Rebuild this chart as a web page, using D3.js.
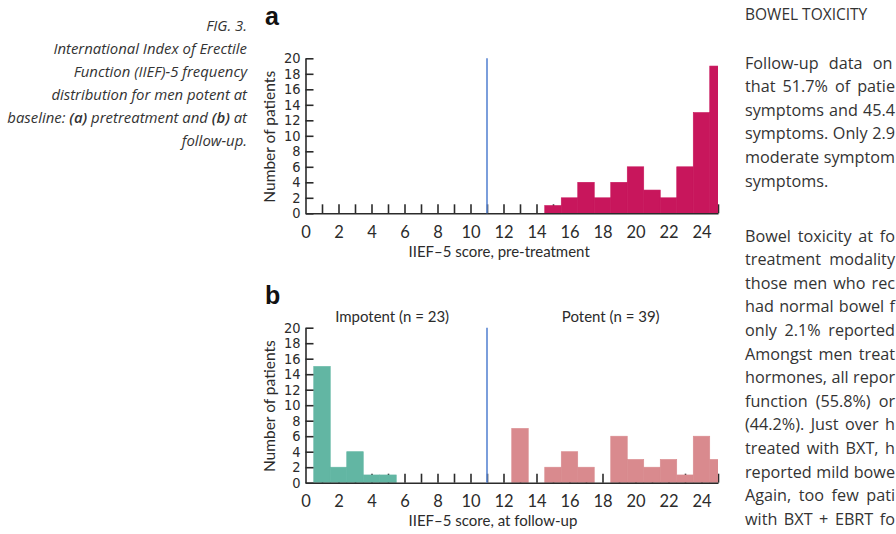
<!DOCTYPE html>
<html>
<head>
<meta charset="utf-8">
<script src="https://cdn.jsdelivr.net/npm/d3@7/dist/d3.min.js"></script>
<style>
  html, body { margin: 0; padding: 0; background: #fff; overflow: hidden; }
  svg { display: block; }
</style>
</head>
<body>
<svg id="fig" width="896" height="534"></svg>
<script>
// IIEF-5 score distributions (number of patients per score)
const preScores = [15, 16, 17, 18, 19, 20, 21, 22, 23, 24, 25];
const preCounts = [1, 2, 4, 2, 4, 6, 3, 2, 6, 13, 19];

const impotentScores = [1, 2, 3, 4, 5];
const impotentCounts = [15, 2, 4, 1, 1];

const potentScores = [13, 15, 16, 17, 19, 20, 21, 22, 23, 24, 25];
const potentCounts = [7, 2, 4, 2, 6, 3, 2, 3, 1, 6, 3];

const cutoffScore = 11;
const yTickValues = [0, 2, 4, 6, 8, 10, 12, 14, 16, 18, 20];
const xTickMarks = d3.range(1, 26);
const xTickLabels = [0, 2, 4, 6, 8, 10, 12, 14, 16, 18, 20, 22, 24];

const captionLines = [
  [{t: "FIG. 3."}],
  [{t: "International Index of Erectile"}],
  [{t: "Function (IIEF)-5 frequency"}],
  [{t: "distribution for men potent at"}],
  [{t: "baseline: "}, {t: "(a)", b: true}, {t: " pretreatment and "}, {t: "(b)", b: true}, {t: " at"}],
  [{t: "follow-up."}]
];

const bodyHeading = "BOWEL TOXICITY";
const bodyPara1 = [
  "Follow-up data on",
  "that 51.7% of patie",
  "symptoms and 45.4",
  "symptoms. Only 2.9",
  "moderate symptom",
  "symptoms."
];
const bodyPara2 = [
  "Bowel toxicity at fo",
  "treatment modality",
  "those men who rec",
  "had normal bowel f",
  "only 2.1% reported",
  "Amongst men treat",
  "hormones, all repor",
  "function (55.8%) or",
  "(44.2%). Just over h",
  "treated with BXT, h",
  "reported mild bowe",
  "Again, too few pati",
  "with BXT + EBRT fo"
];

const svg = d3.select("#fig");
const ink = "#2b2b2b";
const chartFont = "Lato, 'Open Sans', sans-serif";

// ---- caption (left) ----
const cap = svg.append("text")
  .attr("text-anchor", "end")
  .attr("font-family", "'Open Sans', Lato, sans-serif")
  .attr("font-style", "italic")
  .attr("font-size", 14.9)
  .attr("fill", "#333");
captionLines.forEach((parts, i) => {
  const line = cap.append("tspan").attr("x", 247).attr("y", 30.5 + i * 23);
  parts.forEach((p, j) => {
    const s = j === 0 ? line : cap.append("tspan");
    s.text(p.t).attr("font-weight", p.b ? 600 : "normal");
  });
});

// ---- shared x scale ----
const x = d3.scaleLinear().domain([0, 25]).range([305.5, 718]);

function panel(opts) {
  const y = d3.scaleLinear().domain([0, 20]).range([opts.y0, opts.y0 - 155]);
  const g = svg.append("g");

  // panel letter
  g.append("text")
    .attr("x", 265).attr("y", opts.letterY)
    .attr("font-family", "'Liberation Sans', Arial, sans-serif")
    .attr("font-weight", "bold").attr("font-size", 25)
    .attr("fill", "#111")
    .text(opts.letter);

  // x tick marks (inward), under the bars
  g.append("g")
    .attr("transform", `translate(0,${y(0)})`)
    .call(d3.axisBottom(x).tickValues(xTickMarks).tickSize(-9).tickSizeOuter(0).tickFormat(""))
    .call(a => a.select(".domain").remove())
    .call(a => a.selectAll("line").attr("stroke", ink).attr("stroke-width", 1.6));

  // x tick labels
  g.append("g")
    .attr("transform", `translate(0,${y(0)})`)
    .call(d3.axisBottom(x).tickValues(xTickLabels).tickSize(0).tickPadding(13))
    .call(a => a.select(".domain").remove())
    .call(a => a.selectAll("text")
      .attr("font-family", chartFont).attr("font-size", 16.5).attr("fill", ink));

  // bars, clipped to the axis extent
  const clipId = "clip-" + opts.letter;
  g.append("clipPath").attr("id", clipId)
    .append("rect")
    .attr("x", x(0)).attr("y", y(20) - 5)
    .attr("width", x(25) - x(0)).attr("height", y(0) - y(20) + 5);

  opts.series.forEach(s => {
    const data = s.scores.map((sc, i) => ({score: sc, count: s.counts[i]}));
    g.append("g").attr("clip-path", `url(#${clipId})`)
      .selectAll("rect").data(data).join("rect")
      .attr("x", d => x(d.score - 0.5))
      .attr("width", d => x(d.score + 0.5) - x(d.score - 0.5))
      .attr("y", d => y(d.count))
      .attr("height", d => y(0) - y(d.count))
      .attr("fill", s.color)
      .attr("stroke", s.color).attr("stroke-width", 0.6);
  });

  // baseline of the x axis
  g.append("g")
    .attr("transform", `translate(0,${y(0)})`)
    .call(d3.axisBottom(x).tickValues([]).tickSizeOuter(0))
    .call(a => a.select(".domain").attr("stroke", ink).attr("stroke-width", 1.6));

  // y axis: inward ticks, narrow labels
  g.append("g")
    .attr("transform", `translate(${x(0)},0)`)
    .call(d3.axisLeft(y).tickValues(yTickValues).tickSize(-8).tickSizeOuter(0).tickPadding(5))
    .call(a => a.select(".domain").attr("stroke", ink).attr("stroke-width", 1.6))
    .call(a => a.selectAll("line").attr("stroke", ink).attr("stroke-width", 1.6))
    .call(a => a.selectAll("text")
      .attr("font-family", "'Liberation Sans Narrow', 'DejaVu Sans Condensed', sans-serif")
      .attr("font-size", 14.5).attr("fill", ink));

  // cut-off line at score 11
  g.append("line")
    .attr("x1", x(cutoffScore)).attr("x2", x(cutoffScore))
    .attr("y1", y(0)).attr("y2", y(20))
    .attr("stroke", "#5b86d3").attr("stroke-width", 1.6);

  // axis titles
  g.append("text")
    .attr("x", 408.5).attr("y", y(0) + 43.5)
    .attr("font-family", chartFont).attr("font-size", 15).attr("fill", ink)
    .text(opts.xTitle);

  g.append("text")
    .attr("transform", `translate(275,${y(10) + 1}) rotate(-90)`)
    .attr("text-anchor", "middle")
    .attr("font-family", chartFont).attr("font-size", 15.5).attr("fill", ink)
    .text("Number of patients");

  (opts.groupLabels || []).forEach(l => {
    g.append("text")
      .attr("x", x(l.at)).attr("y", y(20) - 6)
      .attr("text-anchor", "middle")
      .attr("font-family", chartFont).attr("font-size", 15).attr("fill", ink)
      .text(l.text);
  });
}

panel({
  letter: "a", letterY: 25, y0: 213.3,
  xTitle: "IIEF\u20135 score, pre-treatment",
  series: [{scores: preScores, counts: preCounts, color: "#c8165c"}]
});

panel({
  letter: "b", letterY: 304, y0: 482.7,
  xTitle: "IIEF\u20135 score, at follow-up",
  series: [
    {scores: impotentScores, counts: impotentCounts, color: "#62b6a3"},
    {scores: potentScores, counts: potentCounts, color: "#d98a8e"}
  ],
  groupLabels: [
    {text: "Impotent (n = 23)", at: 5.25},
    {text: "Potent (n = 39)", at: 18.5}
  ]
});

// ---- body text (right column, justified lines running past the edge) ----
const body = svg.append("g")
  .attr("font-family", "'Open Sans', sans-serif")
  .attr("font-size", 16.2)
  .attr("fill", "#333");
const colLeft = 745, colRight = 895, lineStep = 23.6, maxExtra = 6;

function bodyLine(t, yPos, justify) {
  const el = body.append("text").attr("x", colLeft).attr("y", yPos).text(t);
  const gaps = (t.match(/ /g) || []).length;
  if (justify && gaps > 0) {
    const w = el.node().getComputedTextLength();
    const extra = Math.min(maxExtra, (colRight - colLeft - w) / gaps);
    if (extra > 0) el.attr("word-spacing", extra);
  }
}

body.append("text").attr("x", colLeft).attr("y", 20)
  .attr("font-size", 15.5).text(bodyHeading);
bodyPara1.forEach((t, i) => bodyLine(t, 68.5 + i * lineStep, i < bodyPara1.length - 1));
bodyPara2.forEach((t, i) => bodyLine(t, 241.5 + i * lineStep, true));
</script>
</body>
</html>
